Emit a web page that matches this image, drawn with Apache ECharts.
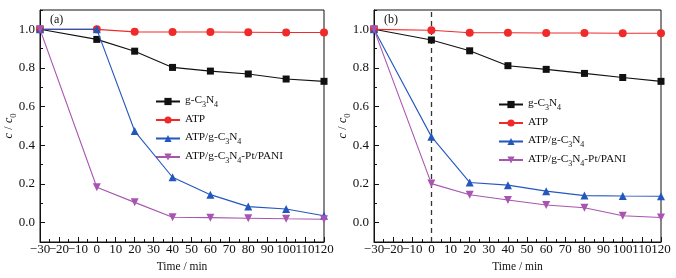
<!DOCTYPE html>
<html><head><meta charset="utf-8">
<script src="https://cdn.jsdelivr.net/npm/echarts@6/dist/echarts.min.js"></script>
<style>html,body{margin:0;padding:0;background:#fff}#c{width:676px;height:278px}</style>
</head><body><div id="c"></div>
<script>
const times = [-30, 0, 20, 40, 60, 80, 100, 120];
const seriesNames = ['g-C3N4', 'ATP', 'ATP/g-C3N4', 'ATP/g-C3N4-Pt/PANI'];
// panel (a)
const a_gC3N4 = [1.0, 0.948, 0.887, 0.803, 0.784, 0.769, 0.743, 0.731];
const a_ATP = [1.0, 1.0, 0.987, 0.986, 0.986, 0.985, 0.984, 0.984];
const a_ATPgC3N4 = [1.0, 1.0, 0.474, 0.235, 0.145, 0.083, 0.071, 0.036];
const a_PANI = [1.0, 0.183, 0.105, 0.028, 0.026, 0.023, 0.020, 0.018];
// panel (b)
const b_gC3N4 = [1.0, 0.945, 0.889, 0.812, 0.793, 0.772, 0.751, 0.731];
const b_ATP = [1.0, 0.995, 0.982, 0.982, 0.981, 0.981, 0.980, 0.980];
const b_ATPgC3N4 = [1.0, 0.445, 0.208, 0.194, 0.163, 0.140, 0.138, 0.137];
const b_PANI = [1.0, 0.202, 0.144, 0.117, 0.091, 0.077, 0.036, 0.027];
// tick labels
const xLabelsOdd = [-30, -10, 10, 30, 50, 70, 90, 110];
const xLabelsEven = [-20, 0, 20, 40, 60, 80, 100, 120];
const yMajorTicks = [0, 0.2, 0.4, 0.6, 0.8, 1.0];
const yMinorTicks = [-0.1, 0.1, 0.3, 0.5, 0.7, 0.9, 1.1];
const panelLabels = ['(a)', '(b)'];

const FONT = '"Liberation Serif", "Times New Roman", serif';
const colors = ['#111111', '#f02a2a', '#2457bd', '#a855b0'];
const symbols = ['rect', 'circle', 'triangle', 'triangle'];
const rotates = [0, 0, 0, 180];
const legendRich = {
  n: {fontFamily: FONT, fontSize: 11.3, color: '#111', lineHeight: 15, verticalAlign: 'bottom', padding: [0,0,3,0]},
  s: {fontFamily: FONT, fontSize: 8, color: '#111', lineHeight: 15, verticalAlign: 'bottom', padding: [0,0,0,0]}
};
const legendFmt = {
  'g-C3N4': '{n|g-C}{s|3}{n|N}{s|4}',
  'ATP': '{n|ATP}',
  'ATP/g-C3N4': '{n|ATP/g-C}{s|3}{n|N}{s|4}',
  'ATP/g-C3N4-Pt/PANI': '{n|ATP/g-C}{s|3}{n|N}{s|4}{n|-Pt/PANI}'
};

function pairs(vals){ return times.map((t,i)=>[t, vals[i]]); }
const fmtX = v => String(v).replace('-', '\u2212');

const grids = [
  {left: 40, right: 352, top: 10, bottom: 36},
  {left: 374, right: 15, top: 10, bottom: 36}
];
const xAxes = [], xAxes2 = [], yAxes = [], series = [], legends = [], graphics = [];
const dataSets = [[a_gC3N4, a_ATP, a_ATPgC3N4, a_PANI], [b_gC3N4, b_ATP, b_ATPgC3N4, b_PANI]];
const legendPos = [{left: 155, top: 95}, {left: 498, top: 98}];
const xLabelStyle = {fontFamily: FONT, fontSize: 13, color: '#111', margin: 1,
  showMinLabel: true, showMaxLabel: true, hideOverlap: false, formatter: fmtX};

for (let g = 0; g < 2; g++) {
  xAxes.push({
    type: 'value', gridIndex: g, min: -30, max: 120, interval: 10, position: 'bottom',
    name: 'Time / min', nameLocation: 'middle', nameGap: 17,
    nameTextStyle: {fontFamily: FONT, fontSize: 11.5, color: '#111'},
    axisLine: {show: true, onZero: false, lineStyle: {color: '#111', width: 1}},
    axisTick: {show: true, inside: true, length: 5, lineStyle: {color: '#111'}},
    minorTick: {show: true, splitNumber: 2, length: 3, lineStyle: {color: '#111'}},
    axisLabel: Object.assign({customValues: xLabelsOdd}, xLabelStyle),
    splitLine: {show: false}
  });
  xAxes2.push({
    type: 'value', gridIndex: g, min: -30, max: 120, interval: 10, position: 'bottom', offset: 0,
    axisLine: {show: false, onZero: false},
    axisTick: {show: false},
    axisLabel: Object.assign({customValues: xLabelsEven}, xLabelStyle),
    splitLine: {show: false}
  });
  yAxes.push({
    type: 'value', gridIndex: g, min: -0.1, max: 1.1,
    name: '{i|c} {n|/} {i|c}{s|0}', nameLocation: 'middle', nameGap: 22, nameRotate: 90,
    nameMoveOverlap: false,
    nameTextStyle: {rich: {
      i: {fontFamily: FONT, fontSize: 12, fontStyle: 'italic', color: '#111', lineHeight: 15, verticalAlign: 'bottom', padding: [0,0,3,0]},
      n: {fontFamily: FONT, fontSize: 12, color: '#111', lineHeight: 15, verticalAlign: 'bottom', padding: [0,0,3,0]},
      s: {fontFamily: FONT, fontSize: 8.5, color: '#111', lineHeight: 15, verticalAlign: 'bottom'}
    }},
    axisLine: {show: true, onZero: false, lineStyle: {color: '#111', width: 1}},
    axisTick: {show: true, inside: true, length: 5, customValues: yMajorTicks, lineStyle: {color: '#111'}},
    axisLabel: {fontFamily: FONT, fontSize: 13, color: '#111', margin: 5, customValues: yMajorTicks,
      formatter: v => v.toFixed(1)},
    splitLine: {show: false}
  });
  // minor y ticks
  yAxes.push({
    type: 'value', gridIndex: g, min: -0.1, max: 1.1, position: 'left', offset: 0,
    axisLine: {show: false, onZero: false},
    axisTick: {show: true, inside: true, length: 3, customValues: yMinorTicks, lineStyle: {color: '#111'}},
    axisLabel: {show: false},
    splitLine: {show: false}
  });
  const yIdx = g * 2;
  dataSets[g].forEach((vals, k) => {
    const s = {
      name: seriesNames[k], type: 'line', xAxisIndex: g, yAxisIndex: yIdx,
      data: pairs(vals), symbol: symbols[k], symbolRotate: rotates[k],
      symbolSize: k === 0 ? 7 : 8, showAllSymbol: true,
      color: colors[k], lineStyle: {color: colors[k], width: 1.1},
      itemStyle: {color: colors[k]}, z: 2 + (k === 1 ? 0 : k),
      animation: false
    };
    if (g === 1 && k === 0) {
      s.markLine = {silent: true, symbol: 'none', label: {show: false},
        lineStyle: {type: [5, 4], color: '#333', width: 1.3}, data: [{xAxis: 0}], z: 1, animation: false};
    }
    series.push(s);
  });
  legends.push({
    orient: 'vertical', left: legendPos[g].left, top: legendPos[g].top, padding: 0,
    itemWidth: 24, itemHeight: 9, itemGap: 4.5,
    data: seriesNames.map(n => ({name: n})),
    formatter: name => legendFmt[name],
    textStyle: {rich: legendRich, padding: [0,0,0,0]},
    selectedMode: false
  });
  graphics.push({
    type: 'text', left: grids[g].left + 10, top: 14,
    style: {text: panelLabels[g], font: '12px ' + FONT, fill: '#111'}
  });
}

const chart = echarts.init(document.getElementById('c'), null, {renderer: 'canvas'});
chart.setOption({
  animation: false,
  backgroundColor: '#fff',
  grid: grids.map(g => Object.assign({show: true, borderColor: '#111', borderWidth: 1, backgroundColor: 'transparent',
    containLabel: false, outerBoundsMode: 'none'}, g)),
  xAxis: xAxes.concat(xAxes2),
  yAxis: yAxes,
  legend: legends,
  series: series,
  graphic: graphics
});
</script></body></html>
